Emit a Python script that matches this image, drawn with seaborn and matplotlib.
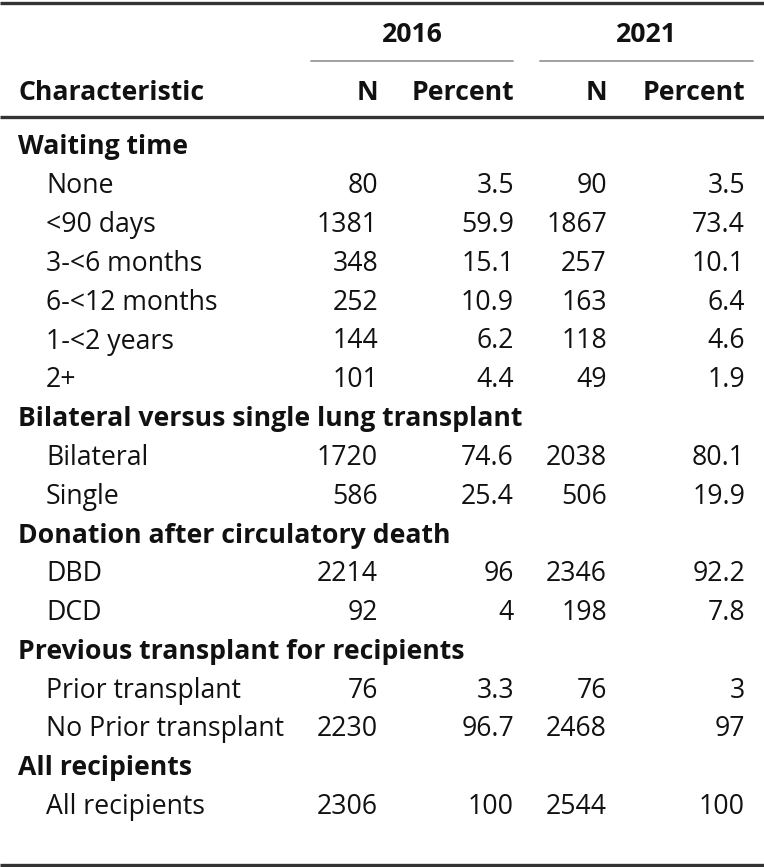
import matplotlib
matplotlib.use("Agg")
import matplotlib.pyplot as plt
import seaborn as sns

sns.set_theme(style="white")
plt.rcParams['font.family'] = ['Open Sans', 'DejaVu Sans']

years = ["2016", "2021"]
groups = ["Waiting time", "Bilateral versus single lung transplant",
          "Donation after circulatory death", "Previous transplant for recipients",
          "All recipients"]
items = [
    ["None", "<90 days", "3-<6 months", "6-<12 months", "1-<2 years", "2+"],
    ["Bilateral", "Single"],
    ["DBD", "DCD"],
    ["Prior transplant", "No Prior transplant"],
    ["All recipients"],
]
n_2016 = [[80, 1381, 348, 252, 144, 101], [1720, 586], [2214, 92], [76, 2230], [2306]]
pct_2016 = [["3.5", "59.9", "15.1", "10.9", "6.2", "4.4"], ["74.6", "25.4"], ["96", "4"], ["3.3", "96.7"], ["100"]]
n_2021 = [[90, 1867, 257, 163, 118, 49], [2038, 506], [2346, 198], [76, 2468], [2544]]
pct_2021 = [["3.5", "73.4", "10.1", "6.4", "4.6", "1.9"], ["80.1", "19.9"], ["92.2", "7.8"], ["3", "97"], ["100"]]

W, H = 764, 867
fig = plt.figure(figsize=(W / 100, H / 100), dpi=100)
ax = fig.add_axes([0, 0, 1, 1])
ax.set_xlim(0, W)
ax.set_ylim(H, 0)
ax.axis("off")

FS = 19.2
col_right = [378, 514, 607, 745]
lab_x, item_x = 18, 46
txt = "#111111"
dy = 2.5

# header
ax.plot([0, W], [3, 3], color="#333333", lw=2.4, solid_capstyle="butt")
for i, yr in enumerate(years):
    x0, x1 = (311, 513) if i == 0 else (540, 753)
    ax.text((x0 + x1) / 2, 33 + dy, yr, ha="center", va="center", fontsize=FS, fontweight="bold", color=txt)
    ax.plot([x0, x1], [61, 61], color="#999999", lw=1.3)
ax.text(lab_x, 90 + dy, "Characteristic", ha="left", va="center", fontsize=FS, fontweight="bold", color=txt)
for i, h in enumerate(["N", "Percent", "N", "Percent"]):
    ax.text(col_right[i], 90 + dy, h, ha="right", va="center", fontsize=FS, fontweight="bold", color=txt)
ax.plot([0, W], [117, 117], color="#333333", lw=2.4, solid_capstyle="butt")

y = 145 + dy
step = 38.8
for g, grp in enumerate(groups):
    ax.text(lab_x, y, grp, ha="left", va="center", fontsize=FS, fontweight="bold", color=txt)
    y += step
    for k, it in enumerate(items[g]):
        vals = [str(n_2016[g][k]), pct_2016[g][k], str(n_2021[g][k]), pct_2021[g][k]]
        ax.text(item_x, y, it, ha="left", va="center", fontsize=FS, color=txt)
        for c, v in enumerate(vals):
            ax.text(col_right[c], y, v, ha="right", va="center", fontsize=FS, color=txt)
        y += step
ax.plot([0, W], [864.5, 864.5], color="#333333", lw=2.4, solid_capstyle="butt")

fig.savefig("out.png", dpi=100)
